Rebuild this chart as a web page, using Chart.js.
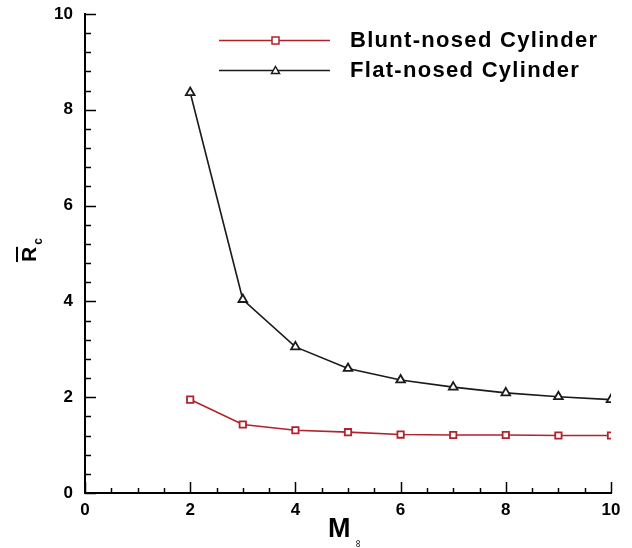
<!DOCTYPE html>
<html>
<head>
<meta charset="utf-8">
<script src="https://cdn.jsdelivr.net/npm/chart.js@4.4.1/dist/chart.umd.min.js"></script>
<style>
  html, body { margin: 0; padding: 0; background: #fff; }
  #wrap { width: 632px; height: 548px; }
</style>
</head>
<body>
<div id="wrap"><canvas id="chart" width="632" height="548"></canvas></div>
<script>
// Mach numbers and the two curves
const machNumbers = [2, 3, 4, 5, 6, 7, 8, 9, 10];
const bluntNosed = [1.95, 1.43, 1.31, 1.27, 1.22, 1.21, 1.21, 1.20, 1.20];
const flatNosed = [8.36, 4.04, 3.05, 2.60, 2.36, 2.21, 2.09, 2.01, 1.95];
const seriesNames = ['Blunt-nosed Cylinder', 'Flat-nosed Cylinder'];

const RED = '#b0232c';
const BLACK = '#1a1a1a';
const FONT = '"Liberation Sans", Arial, sans-serif';

function toPoints(ys) {
    return machNumbers.map((x, i) => ({ x: x, y: ys[i] }));
}

// inward ticks like the original Tecplot figure
const innerTicks = {
    id: 'innerTicks',
    afterDraw(chart) {
        const c = chart.ctx;
        const xs = chart.scales.x, ys = chart.scales.y;
        c.save();
        c.strokeStyle = '#000';
        c.lineWidth = 1.5;
        for (let v = 0; v <= 10.001; v += 0.4) {
            const major = Math.abs(v / 2 - Math.round(v / 2)) < 1e-6;
            const py = Math.round(ys.getPixelForValue(v)) + 0.5;
            c.beginPath();
            c.moveTo(xs.left, py);
            c.lineTo(xs.left + (major ? 11 : 6), py);
            c.stroke();
        }
        for (let v = 0; v <= 10.001; v += 0.5) {
            const major = Math.abs(v / 2 - Math.round(v / 2)) < 1e-6;
            const px = Math.round(xs.getPixelForValue(v)) + 0.5;
            c.beginPath();
            c.moveTo(px, ys.bottom);
            c.lineTo(px, ys.bottom - (major ? 11 : 5));
            c.stroke();
        }
        c.restore();
    }
};

// axis titles with overbar / subscripts
const axisTitles = {
    id: 'axisTitles',
    afterDraw(chart) {
        const c = chart.ctx;
        c.save();
        c.fillStyle = '#000';
        // y title: R-bar sub c, rotated
        c.translate(36, 262);
        c.rotate(-Math.PI / 2);
        c.font = 'bold 21px ' + FONT;
        c.textBaseline = 'alphabetic';
        c.textAlign = 'left';
        c.fillText('R', 0, 0);
        const rw = c.measureText('R').width;
        c.fillRect(0, -20, rw, 2);
        c.font = 'bold 12px ' + FONT;
        c.fillText('c', rw + 2, 6);
        c.restore();

        // x title: M sub infinity
        c.save();
        c.fillStyle = '#000';
        c.font = 'bold 27px ' + FONT;
        c.textAlign = 'left';
        c.textBaseline = 'alphabetic';
        c.fillText('M', 328, 537);
        c.translate(358, 544);
        c.rotate(Math.PI / 2);
        c.font = '11px ' + FONT;
        c.textAlign = 'center';
        c.textBaseline = 'middle';
        c.fillText('\u221E', 0, 0);
        c.restore();
    }
};

// legend drawn as line + marker like the original
const lineLegend = {
    id: 'lineLegend',
    afterDraw(chart) {
        const c = chart.ctx;
        const rows = [40, 70];
        chart.data.datasets.forEach((ds, i) => {
            const y = rows[i] + 0.5;
            c.save();
            c.strokeStyle = ds.borderColor;
            c.lineWidth = 1.5;
            c.beginPath();
            c.moveTo(219, y);
            c.lineTo(330, y);
            c.stroke();
            c.fillStyle = '#fff';
            if (ds.pointStyle === 'rect') {
                c.fillRect(272, y - 3.5, 7, 7);
                c.strokeRect(272, y - 3.5, 7, 7);
            } else {
                c.beginPath();
                c.moveTo(275.5, y - 4);
                c.lineTo(279.5, y + 3);
                c.lineTo(271.5, y + 3);
                c.closePath();
                c.fill();
                c.stroke();
            }
            c.fillStyle = '#000';
            c.font = 'bold 22px ' + FONT;
            c.letterSpacing = '1.3px';
            c.textAlign = 'left';
            c.textBaseline = 'middle';
            c.fillText(ds.label, 350, y);
            c.restore();
        });
    }
};

new Chart(document.getElementById('chart'), {
    type: 'line',
    data: {
        datasets: [
            {
                label: seriesNames[0],
                data: toPoints(bluntNosed),
                borderColor: RED,
                backgroundColor: '#fff',
                borderWidth: 1.6,
                pointStyle: 'rect',
                pointRadius: 4.5,
                pointBorderWidth: 1.8,
                tension: 0
            },
            {
                label: seriesNames[1],
                data: toPoints(flatNosed),
                borderColor: BLACK,
                backgroundColor: '#fff',
                borderWidth: 1.6,
                pointStyle: 'triangle',
                pointRadius: 5,
                pointBorderWidth: 1.8,
                tension: 0
            }
        ]
    },
    options: {
        responsive: false,
        animation: false,
        layout: { padding: { top: 14, right: 21, left: 0, bottom: 0 } },
        plugins: {
            legend: { display: false },
            tooltip: { enabled: false }
        },
        scales: {
            x: {
                type: 'linear',
                min: 0,
                max: 10,
                afterFit: s => { s.height = 55; s.paddingLeft = 0; s.paddingRight = 0; },
                grid: { display: false, drawTicks: false },
                border: { display: true, color: '#000', width: 2 },
                ticks: {
                    stepSize: 2,
                    padding: 7,
                    color: '#000',
                    font: { family: FONT, size: 17, weight: 'bold' }
                }
            },
            y: {
                type: 'linear',
                min: 0,
                max: 10,
                afterFit: s => { s.width = 85; s.paddingTop = 0; s.paddingBottom = 0; },
                grid: { display: false, drawTicks: false },
                border: { display: true, color: '#000', width: 2 },
                ticks: {
                    stepSize: 2,
                    padding: 12,
                    color: '#000',
                    font: { family: FONT, size: 17, weight: 'bold' }
                }
            }
        }
    },
    plugins: [innerTicks, axisTitles, lineLegend]
});
</script>
</body>
</html>
